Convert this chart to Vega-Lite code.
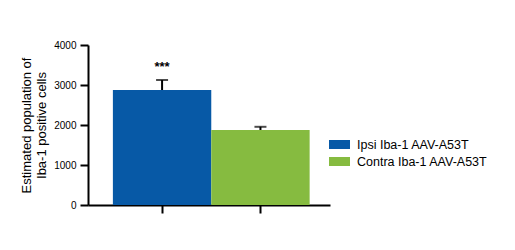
{
  "$schema": "https://vega.github.io/schema/vega-lite/v6.json",
  "autosize": "none",
  "width": 242,
  "height": 160,
  "padding": {"left": 88, "top": 45, "right": 185, "bottom": 45},
  "background": "white",
  "config": {
    "view": {"stroke": null},
    "font": "Liberation Sans",
    "axisY": {
      "values": [0, 1000, 2000, 3000, 4000],
      "format": "d",
      "labelOverlap": false,
      "grid": false,
      "titleFont": "Liberation Sans",
      "titleFontSize": 13,
      "titleFontWeight": "normal",
      "titleColor": "black",
      "titlePadding": 5,
      "titleLineHeight": 15,
      "labelFontSize": 10,
      "labelColor": "black",
      "labelPadding": 4,
      "domainColor": "black",
      "domainWidth": 2,
      "tickColor": "black",
      "tickWidth": 2,
      "tickSize": 8
    }
  },
  "data": {
    "values": [
      {"group": "Ipsi Iba-1 AAV-A53T", "mean": 2875, "upper": 3125, "sig": "***"},
      {"group": "Contra Iba-1 AAV-A53T", "mean": 1875, "upper": 1955, "sig": ""}
    ]
  },
  "encoding": {
    "x": {
      "field": "group",
      "type": "nominal",
      "sort": null,
      "scale": {"paddingInner": 0, "paddingOuter": 0.23, "align": 0.55},
      "axis": {
        "labels": false,
        "title": null,
        "domainColor": "black",
        "domainWidth": 2,
        "tickColor": "black",
        "tickWidth": 2,
        "tickSize": 8
      }
    }
  },
  "layer": [
    {
      "mark": {"type": "bar"},
      "encoding": {
        "y": {
          "field": "mean",
          "type": "quantitative",
          "scale": {"domain": [0, 4000], "nice": false},
          "axis": {
            "values": [0, 1000, 2000, 3000, 4000],
            "title": ["Estimated population of", "Iba-1 positive cells"]
          }
        },
        "color": {
          "field": "group",
          "type": "nominal",
          "sort": null,
          "scale": {"range": ["#0759A6", "#86BB40"]},
          "legend": {
            "title": null,
            "orient": "none",
            "legendX": 241,
            "legendY": 89,
            "symbolType": "M-1,-0.43H1V0.43H-1Z",
            "symbolSize": 441,
            "symbolStrokeWidth": 0,
            "symbolOpacity": 1,
            "labelFontSize": 12.5,
            "labelColor": "black",
            "labelOffset": 7,
            "rowPadding": 0
          }
        }
      }
    },
    {
      "mark": {"type": "rule", "color": "black", "strokeWidth": 2},
      "encoding": {
        "y": {"field": "mean", "type": "quantitative", "axis": {"values": [0, 1000, 2000, 3000, 4000], "title": ["Estimated population of", "Iba-1 positive cells"]}},
        "y2": {"field": "upper"}
      }
    },
    {
      "mark": {"type": "tick", "color": "black", "thickness": 2, "size": 12, "orient": "horizontal"},
      "encoding": {
        "y": {"field": "upper", "type": "quantitative", "axis": {"values": [0, 1000, 2000, 3000, 4000], "title": ["Estimated population of", "Iba-1 positive cells"]}}
      }
    },
    {
      "mark": {"type": "text", "dy": -13, "fontSize": 13, "fontWeight": "bold", "color": "black", "baseline": "middle"},
      "encoding": {
        "y": {"field": "upper", "type": "quantitative", "axis": {"values": [0, 1000, 2000, 3000, 4000], "title": ["Estimated population of", "Iba-1 positive cells"]}},
        "text": {"field": "sig"}
      }
    }
  ]
}
